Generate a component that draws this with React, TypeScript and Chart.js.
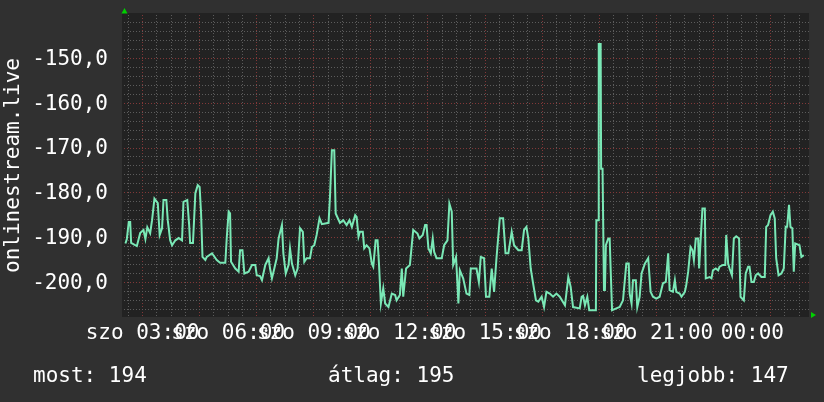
import React, { useEffect, useRef } from "react";
import { Chart, registerables } from "chart.js";
Chart.register(...registerables);

// minutes since Saturday 00:00
const times = [
  144, 147, 151, 154, 156, 168, 175, 182, 186, 190, 196, 200, 205, 212, 216, 221, 224, 230, 233, 238,
  242, 249, 256, 263, 266, 274, 278, 280, 286, 291, 296, 300, 303, 306, 312, 315, 326, 336, 343, 354,
  357, 361, 364, 366, 375, 382, 385, 390, 394, 403, 410, 417, 420, 427, 431, 438, 445, 448, 452, 457,
  462, 466, 473, 476, 481, 487, 490, 494, 501, 506, 511, 517, 520, 525, 532, 536, 541, 546, 552, 557,
  571, 574, 578, 583, 586, 595, 602, 609, 615, 620, 627, 630, 634, 637, 643, 646, 651, 657, 662, 665,
  670, 674, 677, 681, 686, 690, 697, 704, 711, 714, 721, 725, 728, 734, 742, 749, 758, 762, 769, 774,
  777, 781, 786, 790, 793, 798, 809, 814, 821, 825, 830, 833, 839, 844, 847, 854, 861, 867, 870, 882,
  887, 891, 898, 902, 909, 914, 919, 924, 931, 938, 943, 949, 956, 961, 970, 977, 982, 987, 991, 996,
  1001, 1007, 1012, 1019, 1024, 1029, 1036, 1043, 1050, 1057, 1068, 1075, 1080, 1085, 1099, 1103, 1106, 1110, 1115, 1119,
  1133, 1134, 1138, 1139, 1143, 1144, 1147, 1150, 1152, 1154, 1159, 1162, 1164, 1167, 1176, 1183, 1190, 1197, 1202, 1204,
  1208, 1211, 1217, 1220, 1225, 1229, 1236, 1243, 1248, 1253, 1260, 1267, 1274, 1280, 1285, 1288, 1295, 1299, 1302, 1309,
  1313, 1320, 1323, 1327, 1332, 1336, 1339, 1343, 1348, 1350, 1353, 1357, 1362, 1364, 1372, 1376, 1379, 1385, 1390, 1393,
  1400, 1405, 1407, 1411, 1414, 1419, 1423, 1428, 1434, 1437, 1444, 1448, 1453, 1456, 1460, 1465, 1469, 1474, 1481, 1488,
  1491, 1495, 1500, 1505, 1509, 1512, 1517, 1523, 1528, 1532, 1535, 1539, 1542, 1546, 1549, 1552, 1561, 1565, 1570,
];

const values = [
  -191.3, -190.3, -186.5, -186.5, -191.2, -191.9, -189.0, -188.3, -190.3, -187.7, -189.0, -186.1, -181.3, -182.3, -189.4, -187.9, -181.6, -181.6, -186.1, -190.6,
  -191.7, -190.6, -190.1, -190.6, -182.0, -181.6, -187.2, -191.2, -191.2, -180.1, -178.3, -178.7, -184.5, -194.3, -195.0, -194.3, -193.5, -195.0, -195.6, -195.6,
  -190.1, -184.2, -184.6, -195.4, -196.9, -197.6, -192.8, -192.8, -198.0, -197.6, -196.1, -196.1, -198.4, -198.6, -199.5, -196.1, -194.6, -196.9, -199.1, -196.9,
  -194.6, -190.2, -187.2, -193.5, -198.0, -196.1, -192.4, -195.8, -198.4, -196.9, -187.9, -188.7, -195.4, -194.6, -194.6, -192.1, -191.7, -189.4, -185.7, -187.0,
  -186.7, -180.9, -170.5, -170.5, -184.6, -186.7, -186.1, -187.2, -186.1, -187.6, -185.0, -185.4, -189.8, -188.7, -188.7, -192.4, -191.7, -192.4, -195.8, -196.5,
  -190.6, -190.6, -195.8, -204.7, -201.3, -204.7, -205.5, -202.5, -202.8, -204.0, -202.8, -196.9, -203.2, -196.9, -196.1, -188.3, -189.1, -190.2, -189.4, -187.2,
  -187.2, -192.4, -193.5, -190.2, -193.2, -194.6, -194.6, -191.7, -190.6, -182.4, -184.2, -196.1, -194.3, -204.7, -197.3, -199.1, -202.5, -202.8, -196.9, -196.9,
  -199.9, -194.3, -194.6, -203.2, -203.2, -196.9, -202.1, -194.6, -185.7, -185.7, -193.5, -193.5, -188.7, -191.7, -192.8, -192.8, -188.3, -187.6, -190.2, -196.9,
  -200.2, -204.0, -204.3, -203.2, -205.5, -202.1, -202.5, -203.2, -202.5, -203.2, -205.1, -198.8, -201.0, -205.5, -205.8, -203.2, -203.0, -205.1, -203.2, -206.2,
  -206.2, -186.1, -186.1, -146.8, -146.8, -174.6, -174.6, -201.7, -201.7, -191.7, -190.2, -190.2, -196.9, -206.2, -205.8, -205.5, -204.0, -195.8, -195.8, -202.5,
  -204.7, -199.5, -199.5, -205.5, -203.2, -198.0, -195.8, -194.6, -202.1, -203.2, -203.6, -203.2, -200.2, -199.9, -193.5, -201.7, -202.1, -199.5, -202.1, -202.5,
  -203.2, -202.1, -200.6, -197.6, -192.1, -192.8, -195.0, -190.2, -190.2, -196.9, -190.9, -183.5, -183.5, -199.1, -198.8, -199.1, -197.3, -196.9, -197.3, -196.5,
  -196.1, -196.1, -189.4, -195.8, -196.9, -198.4, -190.2, -189.7, -190.2, -203.2, -204.0, -198.0, -196.5, -196.5, -199.9, -199.9, -198.4, -198.0, -198.8, -198.8,
  -187.6, -187.2, -185.0, -184.2, -185.7, -194.6, -198.4, -198.0, -196.9, -187.6, -187.6, -182.7, -187.6, -187.9, -197.6, -191.3, -191.7, -194.3, -193.9,
];

const xLabelTexts = ["szo 03:00", "szo 06:00", "szo 09:00", "szo 12:00", "szo 15:00", "szo 18:00", "szo 21:00", "00:00"];
const xLabelMinutes = [180, 360, 540, 720, 900, 1080, 1260, 1462];
const yLabelValues = [-150, -160, -170, -180, -190, -200];
const footerTexts = ["most: 194", "átlag: 195", "legjobb: 147"];
const axisTitle = "onlinestream.live";

const X_MIN = 141;
const X_MAX = 1581;
const Y_MIN = -207.5;
const Y_MAX = -140.3;

const FONT = "21px 'DejaVu Sans Mono'";
const BG = "#303030";
const PLOT_BG = "#222222";
const MINOR = "#5c5c5c";
const MAJOR = "#823838";
const LINE = "#7ae8b6";
const ARROW = "#00d000";

const rrdPlugin = {
  id: "rrd",
  beforeDraw(chart: any) {
    const { ctx, chartArea: a, width, height } = chart;
    ctx.save();
    ctx.fillStyle = BG;
    ctx.fillRect(0, 0, width, height);
    ctx.fillStyle = PLOT_BG;
    ctx.fillRect(a.left - 2, a.top - 2, a.right - a.left + 2, a.bottom - a.top + 3);
    ctx.restore();
  },
  afterDraw(chart: any) {
    const { ctx, chartArea: a, scales } = chart;
    const xs = scales.x;
    const ys = scales.y;
    ctx.save();
    ctx.font = FONT;
    ctx.fillStyle = "#ffffff";
    // y tick labels
    ctx.textAlign = "right";
    ctx.textBaseline = "middle";
    yLabelValues.forEach((v) => {
      ctx.fillText(v.toFixed(1).replace(".", ","), 108, ys.getPixelForValue(v) + 1);
    });
    // x tick labels
    ctx.textAlign = "center";
    ctx.textBaseline = "alphabetic";
    xLabelTexts.forEach((t, i) => {
      ctx.fillText(t, xs.getPixelForValue(xLabelMinutes[i]), 339);
    });
    // axis title
    ctx.save();
    ctx.translate(19, (a.top + a.bottom) / 2);
    ctx.rotate(-Math.PI / 2);
    ctx.textAlign = "center";
    ctx.fillText(axisTitle, 0, 0);
    ctx.restore();
    // footer
    ctx.textAlign = "left";
    const fx = [33, 328, 637];
    footerTexts.forEach((t, i) => ctx.fillText(t, fx[i], 382));
    // arrows
    ctx.fillStyle = ARROW;
    ctx.beginPath();
    ctx.moveTo(a.left + 0.5, a.top - 7);
    ctx.lineTo(a.left - 2.5, a.top - 1.5);
    ctx.lineTo(a.left + 3.5, a.top - 1.5);
    ctx.closePath();
    ctx.fill();
    ctx.beginPath();
    ctx.moveTo(a.right + 7, a.bottom - 1);
    ctx.lineTo(a.right + 2, a.bottom - 4);
    ctx.lineTo(a.right + 2, a.bottom + 2);
    ctx.closePath();
    ctx.fill();
    ctx.restore();
  },
};

export default function App() {
  const ref = useRef<HTMLCanvasElement | null>(null);
  useEffect(() => {
    if (!ref.current) return;
    const xGrid: number[] = [];
    for (let m = 150; m < X_MAX; m += 30) xGrid.push(m);
    const yGrid: number[] = [];
    for (let v = -206; v <= -142; v += 2) yGrid.push(v);
    const chart = new Chart(ref.current, {
      type: "line",
      data: {
        datasets: [
          {
            data: times.map((t, i) => ({ x: t, y: values[i] })),
            borderColor: LINE,
            borderWidth: 2,
            pointRadius: 0,
            tension: 0,
            fill: false,
          },
        ],
      },
      options: {
        responsive: false,
        animation: false,
        events: [],
        layout: { padding: { left: 124, top: 15, right: 15, bottom: 86 } },
        plugins: { legend: { display: false }, tooltip: { enabled: false } },
        scales: {
          x: {
            type: "linear",
            min: X_MIN,
            max: X_MAX,
            afterBuildTicks: (s: any) => {
              s.ticks = xGrid.map((v) => ({ value: v }));
            },
            ticks: { display: false },
            border: { display: false, dash: [1, 2] },
            grid: {
              drawTicks: false,
              lineWidth: 1,
              color: (c: any) => (c.tick && c.tick.value % 120 === 60 ? MAJOR : MINOR),
            },
          },
          y: {
            type: "linear",
            min: Y_MIN,
            max: Y_MAX,
            afterBuildTicks: (s: any) => {
              s.ticks = yGrid.map((v) => ({ value: v }));
            },
            ticks: { display: false },
            border: { display: false, dash: [1, 2] },
            grid: {
              drawTicks: false,
              lineWidth: 1,
              color: (c: any) => (c.tick && Math.round(c.tick.value) % 10 === 0 ? MAJOR : MINOR),
            },
          },
        },
      } as any,
      plugins: [rrdPlugin],
    });
    return () => chart.destroy();
  }, []);
  return (
    <div style={{ position: "fixed", left: 0, top: 0, width: 824, height: 402, background: BG }}>
      <canvas ref={ref} width={824} height={402} style={{ display: "block" }} />
    </div>
  );
}
